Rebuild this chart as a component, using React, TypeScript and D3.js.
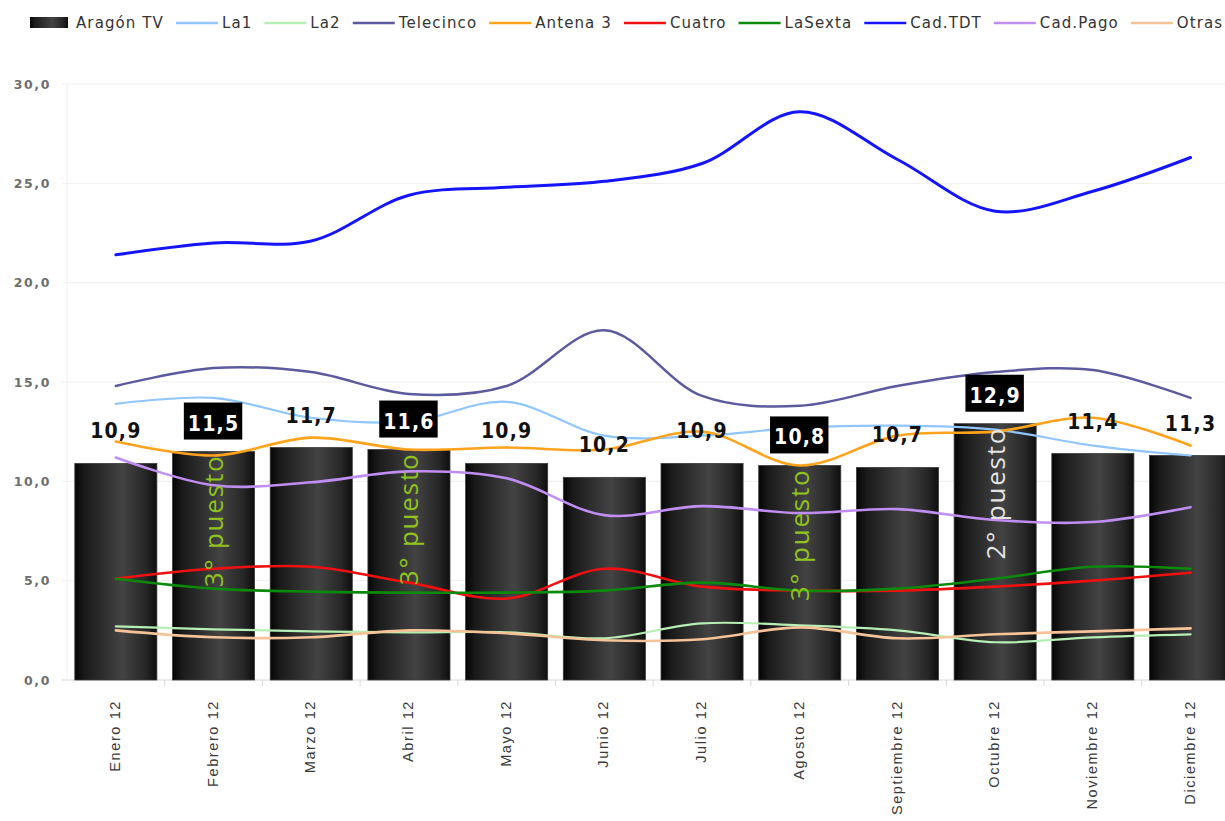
import React, { useEffect, useRef } from "react";
import * as d3 from "d3";

const months = ["Enero 12", "Febrero 12", "Marzo 12", "Abril 12", "Mayo 12", "Junio 12", "Julio 12", "Agosto 12", "Septiembre 12", "Octubre 12", "Noviembre 12", "Diciembre 12"];
const aragonTV = [10.9, 11.5, 11.7, 11.6, 10.9, 10.2, 10.9, 10.8, 10.7, 12.9, 11.4, 11.3];
const la1 = [13.9, 14.2, 13.2, 13.0, 14.0, 12.3, 12.3, 12.7, 12.8, 12.6, 11.8, 11.3];
const la2 = [2.7, 2.55, 2.45, 2.4, 2.4, 2.1, 2.85, 2.75, 2.5, 1.9, 2.15, 2.3];
const telecinco = [14.8, 15.7, 15.5, 14.4, 14.8, 17.6, 14.3, 13.8, 14.8, 15.5, 15.6, 14.2];
const antena3 = [12.0, 11.3, 12.2, 11.6, 11.7, 11.6, 12.5, 10.8, 12.3, 12.5, 13.2, 11.8];
const cuatro = [5.1, 5.6, 5.7, 4.9, 4.1, 5.6, 4.7, 4.5, 4.5, 4.7, 5.0, 5.4];
const laSexta = [5.1, 4.6, 4.45, 4.4, 4.4, 4.5, 4.9, 4.5, 4.6, 5.1, 5.7, 5.6];
const cadTDT = [21.4, 22.0, 22.1, 24.4, 24.8, 25.1, 26.0, 28.6, 26.2, 23.6, 24.6, 26.3];
const cadPago = [11.2, 9.8, 9.95, 10.5, 10.15, 8.3, 8.75, 8.4, 8.6, 8.05, 7.95, 8.7];
const otras = [2.5, 2.15, 2.15, 2.5, 2.35, 2.0, 2.05, 2.65, 2.1, 2.3, 2.45, 2.6];
// puesto de Aragón TV en el mes (0 = sin anotación)
const ranking = [0, 3, 0, 3, 0, 0, 0, 3, 0, 2, 0, 0];
const yTicks = [0, 5, 10, 15, 20, 25, 30];

const lineSeries = [
  { name: "La1", values: la1, color: "#8fc6ff", width: 2.2 },
  { name: "La2", values: la2, color: "#b5efb5", width: 2.2 },
  { name: "Telecinco", values: telecinco, color: "#5b5a9e", width: 2.5 },
  { name: "Antena 3", values: antena3, color: "#ffa21c", width: 2.6 },
  { name: "Cuatro", values: cuatro, color: "#f01010", width: 2.6 },
  { name: "LaSexta", values: laSexta, color: "#0b8a0b", width: 2.6 },
  { name: "Cad.TDT", values: cadTDT, color: "#1414ff", width: 3 },
  { name: "Cad.Pago", values: cadPago, color: "#c08ef2", width: 2.6 },
  { name: "Otras", values: otras, color: "#f6c398", width: 2.6 },
];

const W = 1225;
const H = 821;

export default function App() {
  const ref = useRef<SVGSVGElement>(null);

  useEffect(() => {
    const svg = d3.select(ref.current);
    svg.selectAll("*").remove();

    const x = d3.scaleBand<string>().domain(months).range([67, 1239.4]).paddingInner(0.16).paddingOuter(0.08);
    const y = d3.scaleLinear().domain([0, 30]).range([680, 84]);
    const step = x.step();
    const bw = x.bandwidth();
    const cx = (i: number) => (x(months[i]) as number) + bw / 2;

    const defs = svg.append("defs");
    const grad = defs.append("linearGradient").attr("id", "barGrad").attr("x1", "0").attr("x2", "1").attr("y1", "0").attr("y2", "0");
    [
      [0, "#050505"],
      [0.12, "#1a1a1a"],
      [0.58, "#434343"],
      [0.86, "#272727"],
      [1, "#0e0e0e"],
    ].forEach(([o, c]) => grad.append("stop").attr("offset", o as number).attr("stop-color", c as string));

    // grid lines
    svg.append("g").selectAll("line").data(yTicks).join("line")
      .attr("x1", 62).attr("x2", W).attr("y1", d => y(d)).attr("y2", d => y(d))
      .attr("stroke", d => (d === 0 ? "#d8d8d8" : "#efefef")).attr("stroke-width", 1);
    svg.append("line").attr("x1", 67).attr("x2", 67).attr("y1", y(30)).attr("y2", y(0)).attr("stroke", "#f0f0f0");

    // y labels
    svg.append("g").selectAll("text").data(yTicks).join("text")
      .attr("x", 51).attr("y", d => y(d)).attr("dy", "0.36em").attr("text-anchor", "end")
      .attr("font-family", "DejaVu Sans").attr("font-weight", "bold").attr("font-size", 12.5)
      .attr("letter-spacing", 1.6).attr("fill", "#6e6e6e")
      .text(d => d3.format(".1f")(d).replace(".", ","));

    // x tick marks
    const bounds = months.map(m => (x(m) as number) + bw + step * 0.08);
    svg.append("g").selectAll("line").data(bounds).join("line")
      .attr("x1", d => d).attr("x2", d => d).attr("y1", y(0)).attr("y2", y(0) + 6)
      .attr("stroke", "#d8d8d8");

    // bars
    svg.append("g").selectAll("rect").data(aragonTV).join("rect")
      .attr("x", (d, i) => x(months[i]) as number).attr("width", bw)
      .attr("y", d => y(d)).attr("height", d => y(0) - y(d))
      .attr("fill", "url(#barGrad)").attr("stroke", "#3a3a3a").attr("stroke-width", 0.8);

    // lines
    const lineGen = d3.line<number>().x((d, i) => cx(i)).y(d => y(d)).curve(d3.curveCatmullRom.alpha(0.5));
    svg.append("g").selectAll("path").data(lineSeries).join("path")
      .attr("d", s => lineGen(s.values) as string)
      .attr("fill", "none").attr("stroke", s => s.color).attr("stroke-width", s => s.width)
      .attr("stroke-linejoin", "round").attr("stroke-linecap", "round");

    // ranking annotations
    svg.append("g").selectAll("text").data(aragonTV.map((v, i) => ({ v, i, r: ranking[i] })).filter(d => d.r > 0)).join("text")
      .attr("transform", d => `translate(${cx(d.i)},${y(d.v) + 3}) rotate(-90)`)
      .attr("text-anchor", "end").attr("dy", "0.36em")
      .attr("font-family", "Open Sans").attr("font-size", 26).attr("letter-spacing", 1.8)
      .attr("fill", d => (d.r === 2 ? "#e4e4e4" : "#8fc31f"))
      .text(d => `${d.r}° puesto`);

    // value labels
    const labelFont = "'DejaVu Sans Condensed', 'DejaVu Sans'";
    const lab = svg.append("g");
    aragonTV.forEach((v, i) => {
      const txt = d3.format(".1f")(v).replace(".", ",");
      if (ranking[i] > 0) {
        const t = lab.append("text").attr("x", cx(i)).attr("y", y(v) - 21)
          .attr("text-anchor", "middle").attr("font-family", labelFont).attr("font-stretch", "condensed")
          .attr("font-weight", "bold").attr("font-size", 21).attr("letter-spacing", 1.2).attr("fill", "#fff").text(txt);
        const bb = (t.node() as SVGTextElement).getBBox();
        lab.insert("rect", () => t.node() as any)
          .attr("x", bb.x - 4).attr("width", bb.width + 7)
          .attr("y", y(v) - 49).attr("height", 37).attr("fill", "#000");
      } else {
        lab.append("text").attr("x", cx(i)).attr("y", y(v) - 25)
          .attr("text-anchor", "middle").attr("font-family", labelFont).attr("font-stretch", "condensed")
          .attr("font-weight", "bold").attr("font-size", 21).attr("letter-spacing", 1.2).attr("fill", "#111").text(txt);
      }
    });

    // x labels
    svg.append("g").selectAll("text").data(months).join("text")
      .attr("transform", (d, i) => `translate(${cx(i) - 1},700) rotate(-90)`)
      .attr("text-anchor", "end").attr("dy", "0.35em")
      .attr("font-family", "Liberation Sans").attr("font-size", 14.5).attr("letter-spacing", 1.6)
      .attr("fill", "#3a3a3a").text(d => d);

    // legend
    const lg = svg.append("g");
    let lx = 30;
    const ly = 22;
    const items = [{ name: "Aragón TV", color: "", width: 0 }, ...lineSeries];
    items.forEach((it, k) => {
      if (k === 0) {
        lg.append("rect").attr("x", lx).attr("y", ly - 5).attr("width", 38).attr("height", 11).attr("fill", "url(#barGrad)");
      } else {
        lg.append("line").attr("x1", lx).attr("x2", lx + 42).attr("y1", ly + 1).attr("y2", ly + 1)
          .attr("stroke", it.color).attr("stroke-width", 2.5);
      }
      const t = lg.append("text").attr("x", lx + 46).attr("y", ly + 6)
        .attr("font-family", "DejaVu Sans").attr("font-size", 15).attr("letter-spacing", 1.1)
        .attr("fill", "#333").text(it.name);
      const w = (t.node() as SVGTextElement).getComputedTextLength();
      lx = lx + 46 + w + 12;
    });
  }, []);

  return <svg ref={ref} width={W} height={H} style={{ position: "absolute", left: 0, top: 0, background: "#fff" }} />;
}
